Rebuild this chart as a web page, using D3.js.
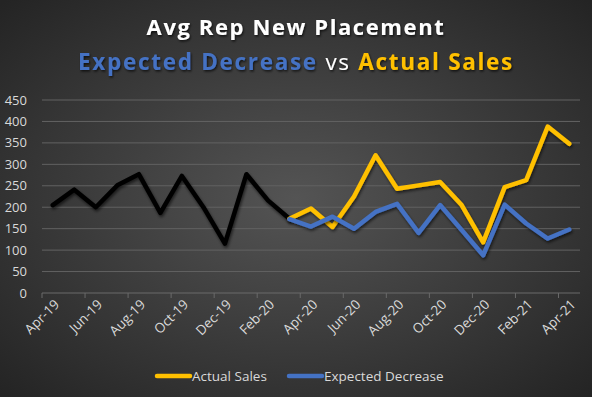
<!DOCTYPE html>
<html>
<head>
<meta charset="utf-8">
<script src="https://cdn.jsdelivr.net/npm/d3@7"></script>
<style>
  html, body { margin: 0; padding: 0; background: #2b2b2b; }
  svg { display: block; }
</style>
</head>
<body>
<div id="chart"></div>
<script>
const width = 592;
const height = 397;
const margin = { top: 100, right: 12, bottom: 104, left: 42 };

// months Apr-19 .. Apr-21
const months = [
  "Apr-19", "May-19", "Jun-19", "Jul-19", "Aug-19", "Sep-19", "Oct-19",
  "Nov-19", "Dec-19", "Jan-20", "Feb-20", "Mar-20", "Apr-20", "May-20",
  "Jun-20", "Jul-20", "Aug-20", "Sep-20", "Oct-20", "Nov-20", "Dec-20",
  "Jan-21", "Feb-21", "Mar-21", "Apr-21"
];
// history up to Mar-20
const history = [205, 241, 200, 251, 277, 187, 273, 200, 115, 277, 216, 173];
// Mar-20 .. Apr-21
const actualSales = [173, 197, 154, 225, 321, 243, 251, 259, 205, 118, 247, 263, 388, 348];
const expectedDecrease = [172, 155, 178, 150, 189, 208, 140, 205, 147, 88, 206, 162, 127, 148];
const yTicks = [0, 50, 100, 150, 200, 250, 300, 350, 400, 450];

const svg = d3
  .select("#chart")
  .append("svg")
  .attr("width", width)
  .attr("height", height);

const defs = svg.append("defs");
const bg = defs
  .append("radialGradient")
  .attr("id", "bg")
  .attr("cx", "50%")
  .attr("cy", "50%")
  .attr("r", "70%");
bg.append("stop").attr("offset", "0%").attr("stop-color", "#545454");
bg.append("stop").attr("offset", "100%").attr("stop-color", "#242424");

const shadow = defs.append("filter").attr("id", "shadow")
  .attr("x", "-10%").attr("y", "-10%").attr("width", "120%").attr("height", "130%");
shadow.append("feDropShadow")
  .attr("dx", 1).attr("dy", 2).attr("stdDeviation", 1.5)
  .attr("flood-color", "#000").attr("flood-opacity", 0.6);

const txtShadow = defs.append("filter").attr("id", "tshadow")
  .attr("x", "-5%").attr("y", "-20%").attr("width", "110%").attr("height", "150%");
txtShadow.append("feDropShadow")
  .attr("dx", 1).attr("dy", 1.5).attr("stdDeviation", 1)
  .attr("flood-color", "#000").attr("flood-opacity", 0.7);

svg.append("rect").attr("width", width).attr("height", height).attr("fill", "url(#bg)");

const g = svg.append("g")
  .attr("transform", "translate(" + margin.left + "," + margin.top + ")");
const innerW = width - margin.left - margin.right;
const innerH = height - margin.top - margin.bottom;

const x = d3.scaleBand().domain(months).range([0, innerW]);
const y = d3.scaleLinear().domain([0, 450]).range([innerH, 0]);
const cx = (m) => x(m) + x.bandwidth() / 2;

// gridlines
g.selectAll("line.grid")
  .data(yTicks)
  .enter()
  .append("line")
  .attr("class", "grid")
  .attr("x1", 0)
  .attr("x2", innerW)
  .attr("y1", (d) => y(d))
  .attr("y2", (d) => y(d))
  .attr("stroke", (d) => (d === 0 ? "#6a6a6a" : "#626262"))
  .attr("stroke-width", 1);

// y labels
g.selectAll("text.ylab")
  .data(yTicks)
  .enter()
  .append("text")
  .attr("class", "ylab")
  .attr("x", -15)
  .attr("y", (d) => y(d))
  .attr("dy", "0.35em")
  .attr("text-anchor", "end")
  .attr("font-family", "Open Sans, sans-serif")
  .attr("font-size", 13)
  .attr("fill", "#d9d9d9")
  .text((d) => d);

// x ticks at every other boundary
const tickMonths = months.filter((d, i) => i % 2 === 0);
g.selectAll("line.xtick")
  .data(tickMonths)
  .enter()
  .append("line")
  .attr("x1", (d) => x(d))
  .attr("x2", (d) => x(d))
  .attr("y1", innerH)
  .attr("y2", innerH + 5)
  .attr("stroke", "#6a6a6a");

g.selectAll("text.xlab")
  .data(tickMonths)
  .enter()
  .append("text")
  .attr("class", "xlab")
  .attr("transform", (d) => "translate(" + (cx(d) + 4) + "," + (innerH + 9) + ") rotate(-45)")
  .attr("text-anchor", "end")
  .attr("dy", "0.35em")
  .attr("font-family", "Open Sans, sans-serif")
  .attr("font-size", 13.5)
  .attr("fill", "#d9d9d9")
  .text((d) => d);

// lines
const line = d3.line().x((d) => cx(d.m)).y((d) => y(d.v));
const toPts = (vals, start) => vals.map((v, i) => ({ m: months[start + i], v: v }));

const series = [
  { pts: toPts(history, 0), color: "#000000" },
  { pts: toPts(actualSales, 11), color: "#FFC000" },
  { pts: toPts(expectedDecrease, 11), color: "#4472C4" }
];

g.selectAll("path.series")
  .data(series)
  .enter()
  .append("path")
  .attr("class", "series")
  .attr("d", (d) => line(d.pts))
  .attr("fill", "none")
  .attr("stroke", (d) => d.color)
  .attr("stroke-width", 4.5)
  .attr("stroke-linejoin", "round")
  .attr("stroke-linecap", "round")
  .attr("filter", "url(#shadow)");

// title
svg.append("text")
  .attr("x", width / 2)
  .attr("y", 35)
  .attr("text-anchor", "middle")
  .attr("font-family", "Open Sans, sans-serif")
  .attr("font-weight", "bold")
  .attr("font-size", 22)
  .attr("letter-spacing", 1.6)
  .attr("fill", "#ffffff")
  .attr("filter", "url(#tshadow)")
  .text("Avg Rep New Placement");

const sub = svg.append("text")
  .attr("x", width / 2)
  .attr("y", 70)
  .attr("text-anchor", "middle")
  .attr("font-family", "Open Sans, sans-serif")
  .attr("font-weight", "bold")
  .attr("font-size", 22.5)
  .attr("letter-spacing", 1.7)
  .attr("filter", "url(#tshadow)");
sub.append("tspan").attr("fill", "#4472C4").text("Expected Decrease");
sub.append("tspan").attr("fill", "#ffffff").attr("font-weight", "normal").text(" vs ");
sub.append("tspan").attr("fill", "#FFC000").text("Actual Sales");

// legend
const legendItems = [
  { name: "Actual Sales", color: "#FFC000", x: 157 },
  { name: "Expected Decrease", color: "#4472C4", x: 289 }
];
const legend = svg.selectAll("g.legend")
  .data(legendItems)
  .enter()
  .append("g")
  .attr("class", "legend")
  .attr("transform", (d) => "translate(" + d.x + ",376)");
legend.append("line")
  .attr("x1", 0)
  .attr("x2", 33)
  .attr("stroke", (d) => d.color)
  .attr("stroke-width", 4.5)
  .attr("stroke-linecap", "round");
legend.append("text")
  .attr("x", 35)
  .attr("dy", "0.35em")
  .attr("font-family", "Open Sans, sans-serif")
  .attr("font-size", 13.5)
  .attr("fill", "#d9d9d9")
  .text((d) => d.name);
</script>
</body>
</html>
